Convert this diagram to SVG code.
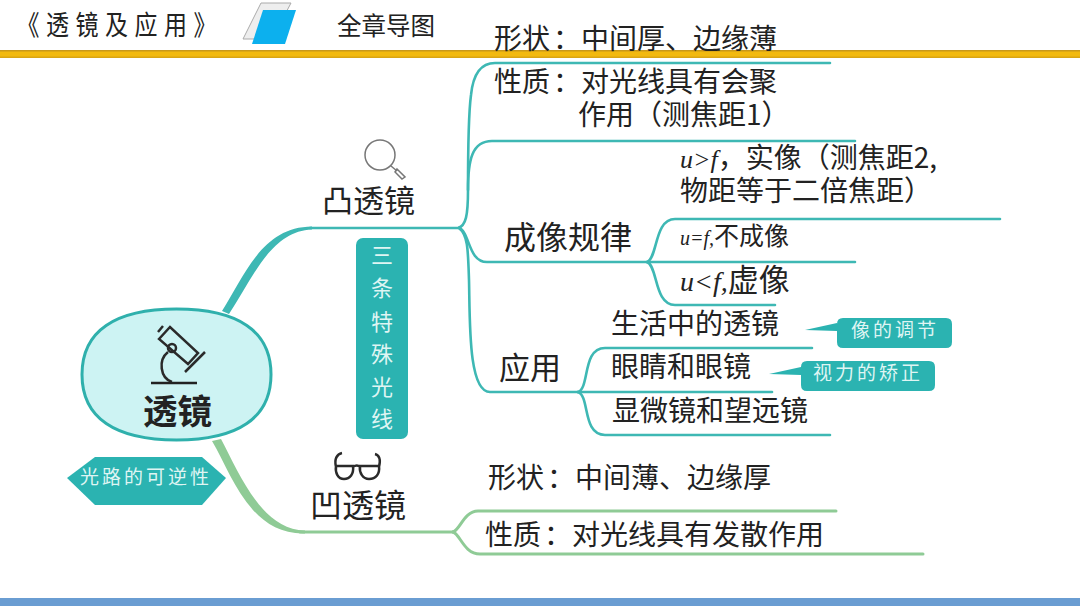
<svg xmlns="http://www.w3.org/2000/svg" width="1080" height="608" viewBox="0 0 1080 608">
<style>
text{font-family:"Noto Sans CJK SC","Liberation Sans",sans-serif;fill:#222}
.i{font-family:"Liberation Serif",serif;font-style:italic}
.c{fill:none;stroke:#3eb8b4;stroke-width:2.6;stroke-linecap:round}
.g{fill:none;stroke:#8fcb96;stroke-width:3;stroke-linecap:round}
.tag{fill:#2bb3b1}
.tt{fill:#dff5f3;font-size:19px;letter-spacing:3px}
.vt{fill:#dff5f3;font-size:22px;text-anchor:middle}
.ic{fill:none;stroke:#2a2a2a;stroke-width:2.5}
.t28{font-size:28px}
.mag{fill:none;stroke:#777;stroke-width:1.5}
</style>
<rect width="1080" height="608" fill="#fff"/>
<g id="header">
<rect x="0" y="50" width="1080" height="8" fill="#f2b90f"/>
<rect x="0" y="50" width="1080" height="1.5" fill="#c8981a"/>
<rect x="0" y="56.5" width="1080" height="1.5" fill="#d9a514"/>
<text transform="translate(16.5 35) scale(1 1.2)" font-size="23" letter-spacing="6.5">《透镜及应用》</text>
<path d="M261 3H291L272 39H243Z" fill="#eeeeee" stroke="#aaa" stroke-width="1"/>
<path d="M263 10H296L285 44H252Z" fill="#0cb0ee"/>
<text x="337" y="35" font-size="24.5">全章导图</text>
</g>
<rect id="footer" x="0" y="598" width="1080" height="8" fill="#6a9dd2"/>
<g id="connectors">
<path fill="#3eb8b4" d="M222 311C245 275 262 227 312 226.600V229.400C270 231 252 280 229 314Z"/>
<path class="c" d="M310 228H458C466 226 468 215 468 190C468 150 469 110 471 95C473 75 480 63 495 63H830"/>
<path class="c" d="M468 190C468 160 472 141 492 141H855"/>
<path class="c" d="M459 228C470 232 468 262 487 262H855"/>
<path class="c" d="M459 228C468 235 468 250 469 280C470 320 468 392 490 392H578"/>
<path class="c" d="M647 262C658 258 654 219 675 219H1000"/>
<path class="c" d="M647 262C658 266 654 305 675 305H775"/>
<path class="c" d="M578 392C590 388 582 348 605 348H812"/>
<path class="c" d="M578 392H772"/>
<path class="c" d="M578 392C590 396 582 435 605 435H830"/>
<path fill="#8fcb96" d="M212 441L221 439C240 475 262 530 305 530.500V533.500C250 535 232 475 212 441Z"/>
<path class="g" d="M300 532H453"/>
<path class="g" d="M453 532C460 530 464 511 478 511H836"/>
<path class="g" d="M453 532C460 534 464 554 480 554H923"/>
</g>
<g id="root">
<path d="M82 374.500C82 331 115 309 176.500 309C238 309 271 331 271 374.500C271 418 238 440 176.500 440C115 440 82 418 82 374.500Z" fill="#cdf3f3" stroke="#2fb0ac" stroke-width="3"/>
<path class="ic" d="M158 332L163 326M159 339L170 327L198 353L188 364ZM185 372L205 352M168 352C158 360 160 378 172 382"/>
<circle class="ic" cx="172" cy="348" r="4"/>
<path d="M151 383H197" stroke="#222" stroke-width="2.5"/>
<text x="143" y="424" font-size="34.500" font-weight="700" fill="#111">透镜</text>
</g>
<g id="tag-reversible">
<path class="tag" d="M67 478L95 457H202L226 478L202 505H95Z"/>
<text class="tt" x="80" y="484">光路的可逆性</text>
</g>
<g id="tag-rays">
<rect class="tag" x="356" y="238" width="52" height="201" rx="7"/>
<text class="vt" x="382" y="263">三</text>
<text class="vt" x="382" y="296">条</text>
<text class="vt" x="382" y="330">特</text>
<text class="vt" x="382" y="362">殊</text>
<text class="vt" x="382" y="395">光</text>
<text class="vt" x="382" y="427">线</text>
</g>
<g id="convex">
<circle class="mag" cx="380" cy="155" r="15"/>
<path class="mag" d="M391 166L397 171M397 169L405 177L402 179L395 172Z"/>
<text x="322" y="212" font-size="31">凸透镜</text>
</g>
<g id="concave">
<path class="ic" d="M336 466H353C354 474 350 479 344 479C338 479 335 473 336 466ZM360 466H379C380 474 376 479 369 479C363 479 359 473 360 466ZM353 467Q357 464 360 467M336 467C334 459 337 454 342 453M379 467C381 459 379 455 375 454"/>
<text x="310" y="517" font-size="32">凹透镜</text>
</g>
<g id="n-convex-shape"><text class="t28" x="494" y="49">形状<tspan dx="3">：</tspan>中间厚、边缘薄</text></g>
<g id="n-convex-prop"><text class="t28" x="494" y="92">性质<tspan dx="3">：</tspan>对光线具有会聚</text><text class="t28" x="578" y="125">作用（测焦距1）</text></g>
<g id="n-imaging"><text x="504" y="249" font-size="32">成像规律</text></g>
<g id="n-u-gt"><text class="t28" x="680" y="168"><tspan class="i" font-size="26">u&gt;f</tspan>，实像（测焦距2,</text><text class="t28" x="680" y="201">物距等于二倍焦距）</text></g>
<g id="n-u-eq"><text x="680" y="245" font-size="25"><tspan class="i" font-size="20">u=f,</tspan>不成像</text></g>
<g id="n-u-lt"><text x="680" y="291" font-size="31"><tspan class="i" font-size="28">u&lt;f,</tspan>虚像</text></g>
<g id="n-app"><text x="499" y="379" font-size="31">应用</text></g>
<g id="n-life"><text class="t28" x="611" y="334">生活中的透镜</text></g>
<g id="n-eye"><text class="t28" x="611" y="377">眼睛和眼镜</text></g>
<g id="n-scope"><text class="t28" x="612" y="421">显微镜和望远镜</text></g>
<g id="callout-image">
<path class="tag" d="M805 330L837 323V324Q837 318 843 318H946Q952 318 952 324V342Q952 348 946 348H843Q837 348 837 342V331Z"/>
<text class="tt" x="851" y="337">像的调节</text>
</g>
<g id="callout-vision">
<path class="tag" d="M769 374L801 367Q801 361 807 361H929Q935 361 935 367V385Q935 391 929 391H807Q801 391 801 385V375Z"/>
<text class="tt" x="813" y="380">视力的矫正</text>
</g>
<g id="n-concave-shape"><text class="t28" x="488" y="488">形状<tspan dx="3">：</tspan>中间薄、边缘厚</text></g>
<g id="n-concave-prop"><text class="t28" x="485" y="545">性质<tspan dx="3">：</tspan>对光线具有发散作用</text></g>
</svg>
